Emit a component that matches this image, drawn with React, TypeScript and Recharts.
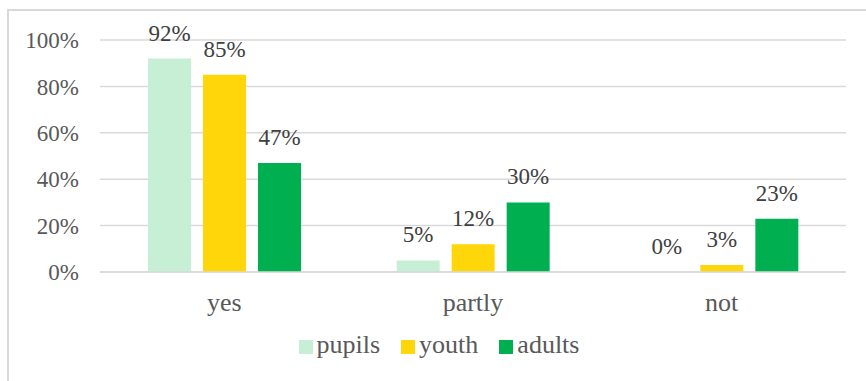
import { BarChart, Bar, XAxis, YAxis, CartesianGrid, Legend, LabelList } from "recharts"

const categories = ["yes", "partly", "not"]
const pupils = [92, 5, 0]
const youth = [85, 12, 3]
const adults = [47, 30, 23]
const yTicks = [0, 20, 40, 60, 80, 100]

const series = [
  { key: "pupils", color: "#C6EFD5" },
  { key: "youth", color: "#FFD60A" },
  { key: "adults", color: "#00B050" },
]

const data = categories.map((name, i) => ({
  name,
  pupils: pupils[i],
  youth: youth[i],
  adults: adults[i],
}))

const font = "Liberation Serif, Times New Roman, DejaVu Serif, serif"

function LegendRow() {
  return (
    <div style={{ display: "flex", justifyContent: "center", gap: 21, paddingLeft: 12, fontFamily: font, fontSize: 26, color: "#595959", lineHeight: "28px" }}>
      {series.map((s) => (
        <div key={s.key} style={{ display: "flex", alignItems: "center" }}>
          <span style={{ width: 14, height: 14, background: s.color, marginRight: 4, display: "inline-block", position: "relative", top: 2 }} />
          <span>{s.key}</span>
        </div>
      ))}
    </div>
  )
}

export default function App() {
  return (
    <div style={{ position: "absolute", left: 0, top: 0, width: 866, height: 381, background: "#fff", overflow: "hidden" }}>
      {/* frame of the figure, cut off at right and bottom */}
      <div style={{ position: "absolute", left: 7, top: 9, width: 900, height: 400, borderTop: "2px solid #d9d9d9", borderLeft: "2px solid #d9d9d9" }} />
      <div style={{ position: "absolute", left: 0, top: 0 }}>
        <BarChart
          width={866}
          height={381}
          data={data}
          margin={{ top: 40, right: 20, bottom: 49, left: 0 }}
          barGap={12}
          barSize={43}
          style={{ fontFamily: font }}
        >
          <CartesianGrid vertical={false} stroke="#d9d9d9" strokeWidth={1.5} />
          <XAxis
            dataKey="name"
            height={60}
            axisLine={{ stroke: "#d9d9d9", strokeWidth: 1.5 }}
            tickLine={false}
            tickSize={0}
            tickMargin={21}
            tick={{ fill: "#595959", fontSize: 26, fontFamily: font }}
          />
          <YAxis
            width={100}
            domain={[0, 100]}
            ticks={yTicks}
            axisLine={false}
            tickLine={false}
            tickSize={0}
            tickMargin={21}
            tickFormatter={(v) => `${v}%`}
            tick={{ fill: "#595959", fontSize: 23, fontFamily: font }}
          />
          <Legend
            verticalAlign="middle"
            align="center"
            content={() => <LegendRow />}
            wrapperStyle={{ top: 331, left: 0, width: 866 }}
          />
          {series.map((s) => (
            <Bar key={s.key} dataKey={s.key} fill={s.color} minPointSize={0.01} isAnimationActive={false}>
              <LabelList
                dataKey={s.key}
                position="top"
                offset={18}
                formatter={(v: number) => `${v}%`}
                fill="#404040"
                fontSize={23}
                fontFamily={font}
              />
            </Bar>
          ))}
        </BarChart>
      </div>
    </div>
  )
}
